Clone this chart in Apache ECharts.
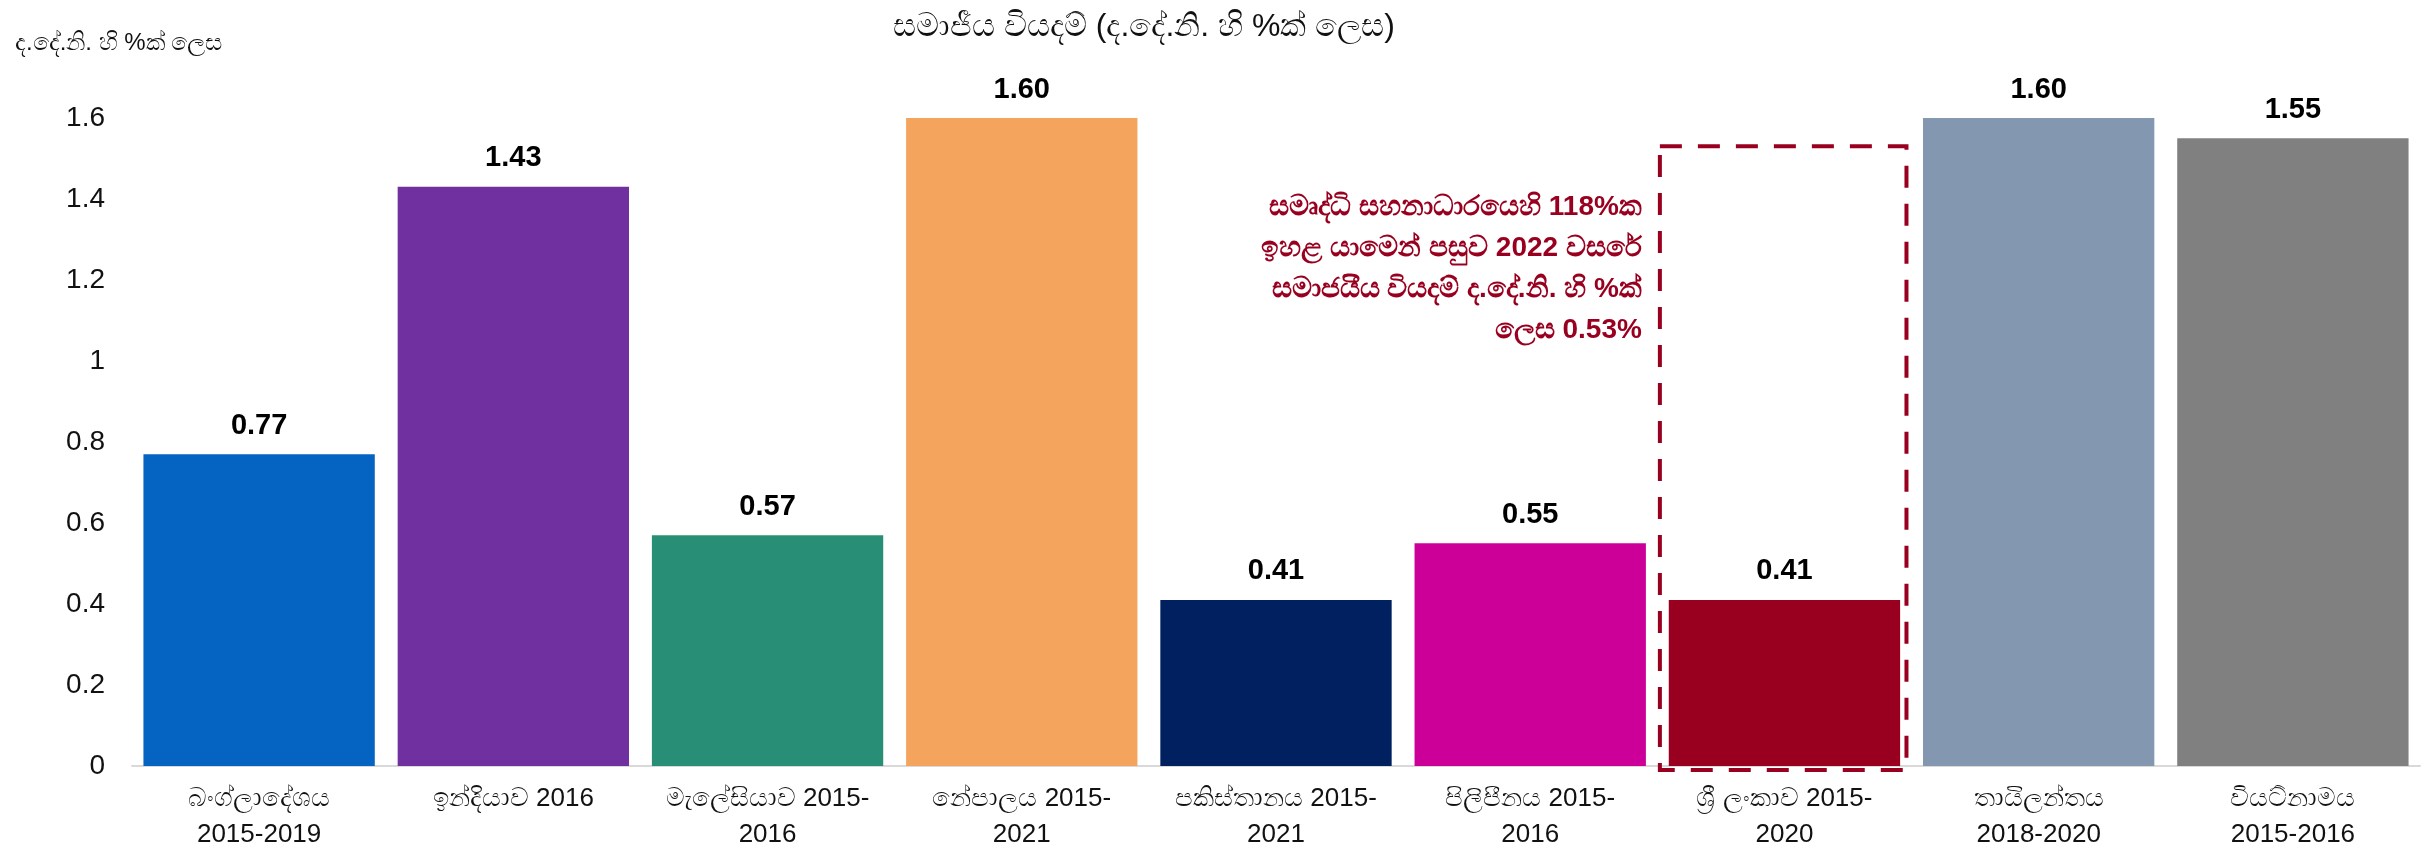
<!DOCTYPE html>
<html>
<head>
<meta charset="utf-8">
<script src="https://cdn.jsdelivr.net/npm/echarts@6/dist/echarts.min.js"></script>
<style>
  html, body { margin: 0; padding: 0; background: #fff; }
  #chart { width: 2433px; height: 862px; }
</style>
</head>
<body>
<div id="chart"></div>
<script>
// categories (country + period), values as % of GDP
const categories = [
  'බංග්ලාදේශය\n2015-2019',
  'ඉන්දියාව 2016',
  'මැලේසියාව 2015-\n2016',
  'නේපාලය 2015-\n2021',
  'පකිස්තානය 2015-\n2021',
  'පිලිපීනය 2015-\n2016',
  'ශ්‍රී ලංකාව 2015-\n2020',
  'තායිලන්තය\n2018-2020',
  'වියට්නාමය\n2015-2016'
];
const values = [0.77, 1.43, 0.57, 1.60, 0.41, 0.55, 0.41, 1.60, 1.55];
const barColors = ['#0563C1', '#7030A0', '#288F76', '#F4A45C', '#002060', '#CC0099', '#99001F', '#8497B0', '#808080'];
const yTicks = [0, 0.2, 0.4, 0.6, 0.8, 1, 1.2, 1.4, 1.6];
const highlightIndex = 6;
const noteLines = [
  'සමෘද්ධි සහනාධාරයෙහි 118%ක',
  'ඉහළ යාමෙන් පසුව 2022 වසරේ',
  'සමාජයීය වියදම් ද.දේ.නි. හි %ක්',
  'ලෙස 0.53%'
];

const font = '"Liberation Sans", "Noto Sans", sans-serif';
const darkRed = '#99001F';

let chartDom = document.getElementById('chart');
let myChart = echarts.init(chartDom);
let option;

option = {
  animation: false,
  textStyle: { fontFamily: font },
  title: [
    {
      text: 'සමාජීය වියදම් (ද.දේ.නි. හි %ක් ලෙස)',
      left: 1139,
      top: 6,
      textAlign: 'center',
      textStyle: { fontSize: 32, fontWeight: 'normal', color: '#111', fontFamily: font }
    },
    {
      text: 'ද.දේ.නි. හි %ක් ලෙස',
      left: 10,
      top: 26,
      textStyle: { fontSize: 24, fontWeight: 'normal', color: '#111', fontFamily: font }
    }
  ],
  grid: { left: 132, right: 13, top: 118, bottom: 96, containLabel: false },
  xAxis: {
    type: 'category',
    data: categories,
    axisTick: { show: false },
    axisLine: { lineStyle: { color: '#D9D9D9', width: 2 } },
    axisLabel: {
      interval: 0,
      color: '#111',
      fontSize: 26,
      lineHeight: 36,
      margin: 15,
      fontFamily: font
    }
  },
  yAxis: {
    type: 'value',
    min: 0,
    max: 1.6,
    interval: 0.2,
    splitLine: { show: false },
    axisLine: { show: false },
    axisTick: { show: false },
    axisLabel: {
      color: '#111',
      fontSize: 28,
      margin: 27,
      fontFamily: font,
      formatter: function (v) {
        const t = yTicks.find((x) => Math.abs(x - v) < 1e-6);
        return t === undefined ? '' : String(t);
      }
    }
  },
  series: [
    {
      type: 'bar',
      barCategoryGap: '9%',
      data: values.map((v, i) => ({ value: v, itemStyle: { color: barColors[i] } })),
      label: {
        show: true,
        position: 'top',
        distance: 14,
        fontSize: 29,
        fontWeight: 'bold',
        color: '#000',
        fontFamily: font,
        formatter: function (p) { return p.value.toFixed(2); }
      }
    }
  ]
};
option && myChart.setOption(option);

// dashed highlight box around Sri Lanka and the note next to it
const center = myChart.convertToPixel({ xAxisIndex: 0 }, highlightIndex);
const band = myChart.convertToPixel({ xAxisIndex: 0 }, 1) - myChart.convertToPixel({ xAxisIndex: 0 }, 0);
const yTop = myChart.convertToPixel({ yAxisIndex: 0 }, 1.53);
const yBottom = myChart.convertToPixel({ yAxisIndex: 0 }, -0.01);
const boxLeft = center - band * 0.49;
const boxRight = center + band * 0.48;

myChart.setOption({
  graphic: [
    {
      type: 'rect',
      shape: { x: boxLeft, y: yTop, width: boxRight - boxLeft, height: yBottom - yTop },
      style: { fill: 'none', stroke: darkRed, lineWidth: 4, lineDash: [22, 16] },
      z: 100
    },
    {
      type: 'text',
      x: boxLeft - 18,
      y: myChart.convertToPixel({ yAxisIndex: 0 }, 1.43),
      style: {
        text: noteLines.join('\n'),
        align: 'right',
        verticalAlign: 'top',
        fill: darkRed,
        font: 'bold 28px ' + font,
        lineHeight: 41
      },
      z: 100
    }
  ]
});
</script>
</body>
</html>
